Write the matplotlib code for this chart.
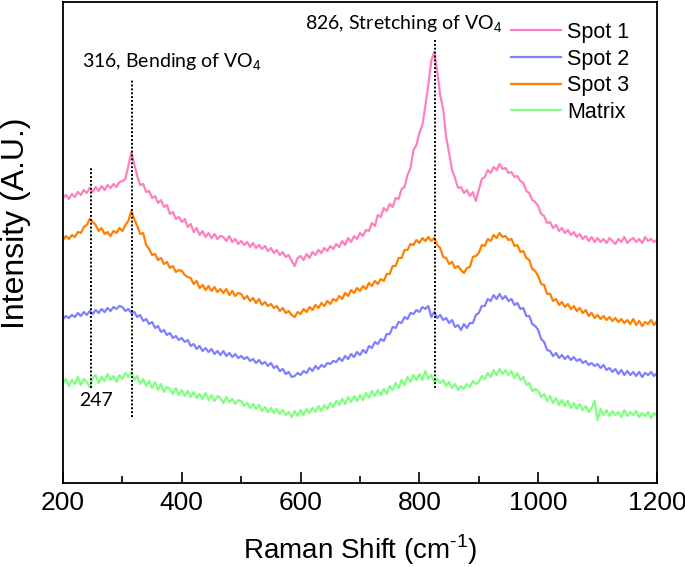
import numpy as np
import matplotlib
matplotlib.use("Agg")
import matplotlib.pyplot as plt
from matplotlib.ticker import MultipleLocator

# Raman shift grid (cm^-1), one sample every 5 cm^-1
raman_shift = np.arange(200, 1201, 5)

# intensities (arbitrary units, offset stacked)
spot1 = [
    285, 288, 284, 289, 286, 291, 288, 293, 290, 295, 291, 296, 292, 297, 293, 298, 295, 299, 296, 301,
    302, 304, 317, 331, 319, 307, 298, 299, 291, 292, 285, 287, 280, 283, 276, 278, 269, 271, 264, 266,
    261, 264, 256, 259, 251, 255, 248, 252, 246, 250, 245, 249, 244, 247, 246, 242, 247, 241, 244, 239,
    242, 238, 241, 236, 240, 235, 238, 234, 237, 232, 235, 230, 233, 228, 231, 226, 228, 222, 217, 225,
    227, 223, 229, 225, 231, 228, 233, 230, 235, 232, 237, 234, 239, 236, 242, 238, 245, 241, 247, 244,
    250, 247, 253, 252, 260, 257, 268, 266, 275, 272, 279, 276, 285, 284, 294, 296, 308, 315, 333, 338,
    350, 358, 377, 398, 422, 431, 412, 388, 374, 346, 330, 313, 305, 295, 296, 290, 293, 287, 291, 282,
    293, 304, 306, 313, 310, 316, 313, 319, 314, 315, 310, 311, 306, 307, 302, 300, 292, 290, 283, 281,
    277, 269, 267, 260, 261, 255, 258, 252, 255, 250, 253, 248, 251, 246, 249, 244, 247, 242, 246, 241,
    245, 241, 244, 240, 245, 242, 239, 244, 241, 246, 240, 243, 245, 241, 244, 240, 246, 242, 244, 241, 243,
]
spot2 = [
    164, 167, 165, 168, 166, 170, 167, 171, 168, 172, 169, 173, 170, 174, 171, 175, 172, 176, 174, 177,
    176, 172, 174, 170, 171, 166, 168, 162, 164, 159, 161, 155, 157, 151, 153, 148, 150, 145, 147, 143,
    145, 141, 143, 137, 139, 134, 137, 132, 135, 131, 134, 129, 132, 128, 132, 127, 130, 126, 129, 125,
    127, 124, 126, 122, 124, 120, 123, 119, 121, 117, 120, 115, 117, 112, 114, 109, 111, 106, 107, 110,
    108, 112, 110, 115, 112, 117, 114, 118, 116, 120, 119, 122, 121, 125, 122, 127, 124, 129, 126, 131,
    128, 133, 130, 137, 135, 141, 139, 144, 142, 149, 149, 156, 155, 161, 160, 166, 164, 170, 169, 173,
    171, 176, 174, 177, 166, 171, 165, 168, 163, 165, 160, 163, 156, 158, 153, 159, 155, 160, 160, 168,
    170, 177, 177, 184, 182, 188, 184, 189, 184, 187, 182, 184, 178, 180, 174, 175, 167, 167, 159, 157,
    153, 144, 141, 133, 132, 127, 130, 125, 128, 124, 127, 123, 126, 122, 124, 120, 122, 118, 120, 117,
    119, 115, 118, 113, 115, 111, 114, 109, 113, 108, 112, 108, 111, 107, 111, 106, 110, 108, 111, 107, 110,
]
spot3 = [
    243, 247, 244, 248, 246, 251, 250, 256, 258, 264, 261, 258, 252, 255, 249, 251, 247, 252, 250, 255,
    252, 258, 262, 272, 264, 257, 249, 250, 238, 234, 228, 229, 223, 225, 219, 221, 215, 217, 211, 213,
    212, 208, 206, 205, 199, 202, 195, 198, 193, 197, 192, 196, 191, 194, 190, 194, 188, 192, 187, 190,
    189, 184, 187, 182, 185, 180, 184, 178, 181, 177, 179, 175, 177, 172, 175, 170, 172, 168, 166, 171,
    169, 174, 171, 176, 173, 178, 175, 180, 177, 182, 179, 184, 182, 187, 184, 190, 187, 193, 190, 195,
    192, 197, 194, 200, 197, 202, 199, 204, 202, 209, 209, 217, 217, 225, 225, 233, 233, 239, 238, 243,
    240, 245, 242, 246, 242, 245, 238, 235, 226, 225, 219, 221, 215, 217, 213, 210, 215, 216, 226, 227,
    230, 238, 237, 244, 242, 248, 245, 250, 246, 247, 243, 244, 237, 238, 231, 232, 225, 223, 214, 212,
    207, 199, 198, 189, 189, 182, 184, 178, 181, 176, 179, 174, 177, 172, 175, 170, 173, 167, 170, 165,
    168, 164, 167, 163, 166, 162, 165, 161, 164, 160, 163, 159, 164, 158, 162, 157, 161, 159, 163, 158, 162,
]
matrix = [
    100, 104, 97, 103, 99, 106, 98, 104, 101, 96, 105, 108, 100, 106, 102, 109, 103, 107, 101, 108,
    104, 110, 106, 111, 103, 107, 99, 104, 97, 102, 95, 101, 93, 99, 91, 96, 94, 89, 95, 88,
    93, 87, 92, 86, 91, 85, 89, 84, 90, 83, 88, 82, 87, 85, 80, 86, 81, 84, 79, 83,
    82, 77, 80, 75, 79, 74, 78, 72, 76, 71, 75, 70, 74, 69, 73, 68, 71, 66, 72, 67,
    73, 68, 74, 70, 75, 71, 77, 72, 78, 74, 80, 76, 82, 78, 84, 79, 86, 81, 87, 82,
    88, 83, 90, 85, 92, 87, 93, 88, 94, 89, 97, 93, 100, 95, 103, 98, 106, 101, 108, 103,
    109, 103, 112, 104, 108, 101, 104, 100, 103, 97, 101, 95, 99, 93, 97, 94, 99, 96, 102, 99,
    101, 107, 104, 110, 106, 113, 108, 114, 109, 113, 108, 112, 105, 110, 103, 106, 98, 100, 92, 94,
    92, 86, 89, 82, 87, 80, 85, 78, 83, 77, 82, 75, 80, 74, 79, 73, 77, 71, 75, 82,
    63, 74, 68, 73, 67, 72, 68, 71, 66, 73, 67, 71, 68, 72, 66, 70, 67, 71, 65, 70, 67,
]

labels = ["Spot 1", "Spot 2", "Spot 3", "Matrix"]
colors = ["#ff80c0", "#8080ff", "#ff8000", "#80ff80"]

# marked peaks: position, top and bottom of the dotted guide
peak_pos = [247, 316, 826]
peak_top = [316, 403, 443]
peak_bottom = [95, 66, 95]

plt.rcParams['font.family'] = ['Liberation Sans', 'DejaVu Sans']
plt.rcParams['mathtext.fontset'] = 'custom'
plt.rcParams['mathtext.rm'] = 'Liberation Sans'

fig = plt.figure(figsize=(6.85, 5.67), dpi=100)
ax = fig.add_axes([63 / 685, 84 / 567, 594 / 685, 481 / 567])

for series, lab, col in zip([spot1, spot2, spot3, matrix], labels, colors):
    ax.plot(raman_shift, series, color=col, lw=1.6, label=lab)

for pos, top, bot in zip(peak_pos, peak_top, peak_bottom):
    ax.plot([pos, pos], [bot, top], color='black', ls=(0, (1, 1)), lw=1.4)

ann_font = ['Lato', 'DejaVu Sans']
ax.text(232, 421, "316, Bending of VO$_4$", family=ann_font, fontsize=14,
        ha='left', va='center')
ax.text(607, 459, "826, Stretching of VO$_4$", family=ann_font, fontsize=14,
        ha='left', va='center')
ax.text(227, 83, "247", family=ann_font, fontsize=14, ha='left', va='center')

ax.set_xlim(200, 1200)
ax.set_ylim(0, 481)
ax.xaxis.set_major_locator(MultipleLocator(200))
ax.xaxis.set_minor_locator(MultipleLocator(100))
ax.tick_params(axis='x', which='major', direction='in', length=8, width=1.2,
               labelsize=19, pad=6, top=False)
ax.tick_params(axis='x', which='minor', direction='in', length=5, width=1.2,
               top=False)
ax.set_yticks([])
for sp in ax.spines.values():
    sp.set_linewidth(1.3)

ax.set_xlabel("Raman Shift (cm$^{\\text{-1}}$)", fontsize=20)
ax.xaxis.set_label_coords(0.5, -0.138)
ax.xaxis.label.set_va('center')
ax.set_ylabel("Intensity (A.U.)", fontsize=23)
ax.yaxis.set_label_coords(-0.079, 0.54)
ax.yaxis.label.set_va('center')

ax.legend(loc='upper left', bbox_to_anchor=(511 / 685, 1 - 22 / 567),
          bbox_transform=fig.transFigure, frameon=False, fontsize=15.5,
          handlelength=2.3, handletextpad=0.3, labelspacing=0.26,
          borderpad=0, borderaxespad=0)

fig.savefig("out.png", dpi=100)
